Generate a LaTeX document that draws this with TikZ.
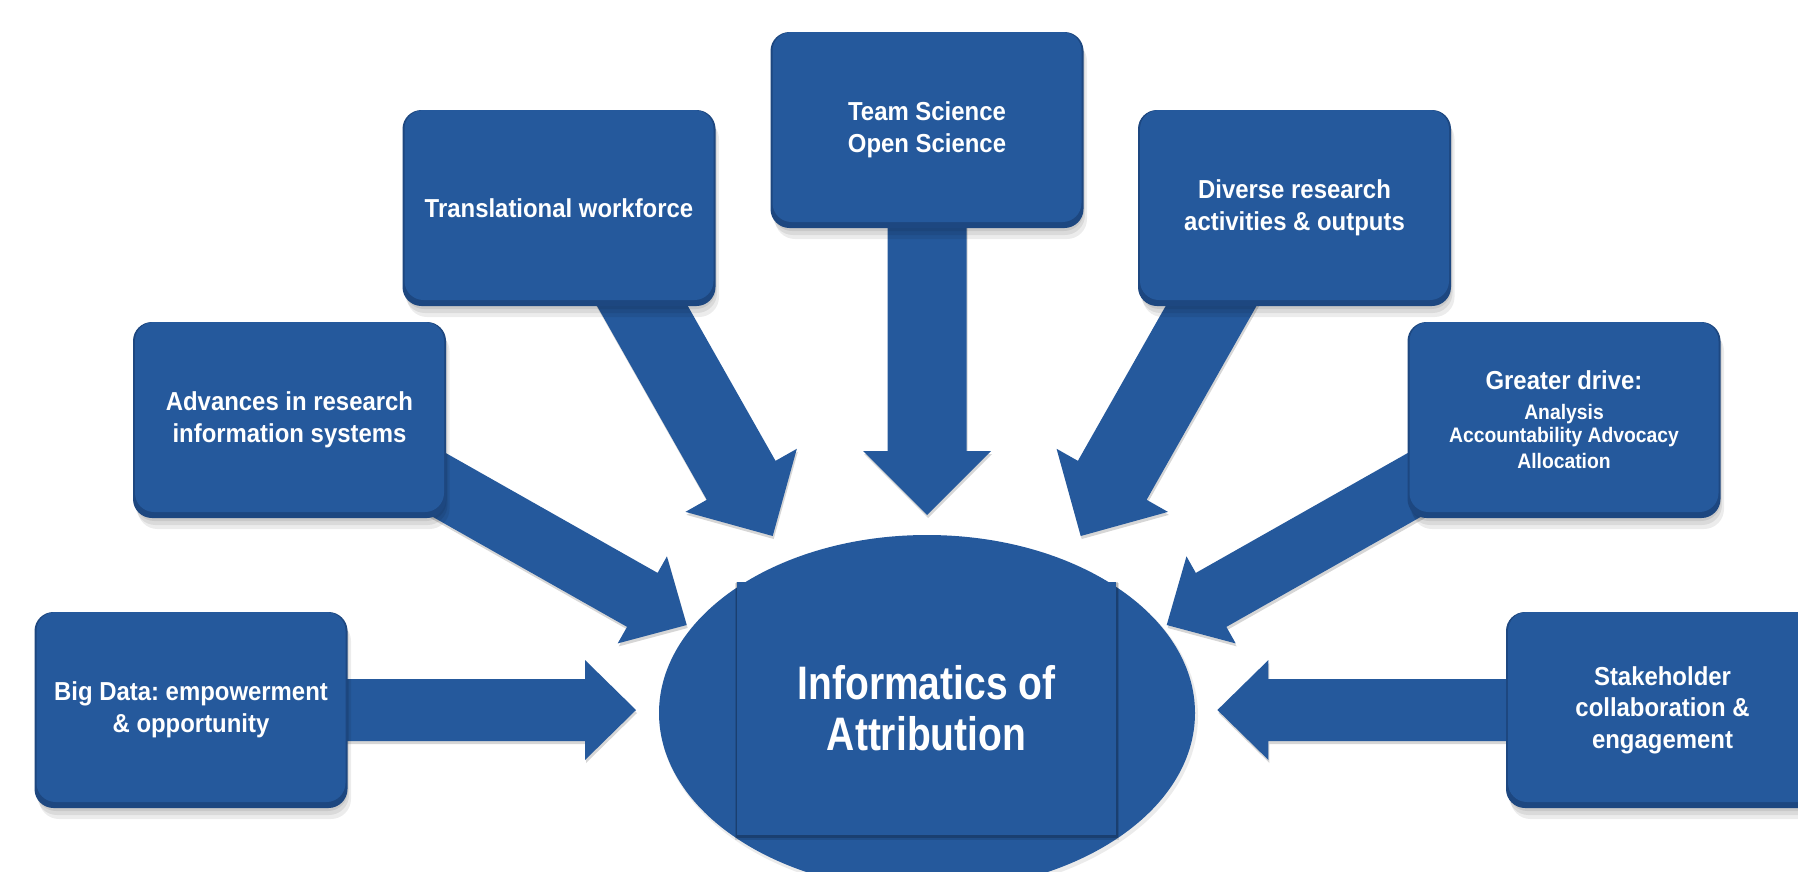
\documentclass[tikz,border=0pt]{standalone}
\usepackage{fontspec}
\setmainfont{Liberation Sans}[FakeStretch=0.92]
\newfontfamily\corefont{Liberation Sans}[FakeStretch=0.83]
\usetikzlibrary{calc,shapes.geometric}
\frenchspacing

\definecolor{boxblue}{RGB}{37,89,156}
\definecolor{edgeblue}{RGB}{29,71,128}

\pgfdeclarelayer{paper}
\pgfdeclarelayer{arrows}
\pgfsetlayers{paper,arrows,main}

\newcommand{\minorsize}{\fontsize{21}{24.5}\selectfont}

\tikzset{
  card/.style={rectangle, rounded corners=19pt, minimum width=309pt, minimum height=190pt,
    inner sep=0pt, fill=boxblue},
  cardedge/.style={fill=edgeblue, rounded corners=19pt},
  cardshade/.style={fill=black, opacity=.075, rounded corners=20pt},
  cardtext/.style={text=white, align=center, inner sep=0pt,
    font=\bfseries\fontsize{26}{31.5}\selectfont},
  coretext/.style={text=white, align=center, inner sep=0pt,
    font=\corefont\bfseries\fontsize{47}{51}\selectfont},
  arrowbody/.style={fill=boxblue},
  arrowshade/.style={fill=black, opacity=.16},
}

% rounded card: soft shadow, darker rim, face, label
\newcommand{\card}[4]{%
  \begin{scope}[shift={(#2,#3)}]
    \fill[cardshade] (-152,-86) rectangle (160,112);
    \fill[cardshade] (-154,-90) rectangle (158,108);
    \fill[cardshade] (-155,-93) rectangle (157,104);
    \fill[cardedge] (-156.5,-95) rectangle (156.5,101);
    \node[card] (#1) at (0,0) {};
    \node[cardtext] (#1-t) at (0,3) {#4};
  \end{scope}}

% outline of a block arrow from #2 to tip #3
\newcommand{\arrowpath}[5][]{%
  \fill[#1] ($(#2)!#4!90:(#3)$) -- ($(#3-base)!#4!90:(#3)$) -- ($(#3-base)!#5!90:(#3)$)
    -- (#3) -- ($(#3-base)!#5!-90:(#3)$) -- ($(#3-base)!#4!-90:(#3)$)
    -- ($(#2)!#4!-90:(#3)$) -- cycle;}

% block arrow: start, tip, shaft half width, head half width, head length
\newcommand{\blockarrow}[5]{%
  \coordinate (#2-base) at ($(#2)!#5!(#1)$);
  \begin{scope}[transform canvas={shift={(1pt,-3pt)}}]
    \arrowpath[arrowshade]{#1}{#2}{#3}{#4}
  \end{scope}
  \arrowpath[arrowbody]{#1}{#2}{#3}{#4}}

\begin{document}
\begin{tikzpicture}[x=1pt, y=-1pt]
  \begin{pgfonlayer}{paper}
    \fill[white] (0,0) rectangle (1798,871);
  \end{pgfonlayer}
  \useasboundingbox (0,0) rectangle (1798,871);

  % outer cards
  \card{ts}{927}{127}{Team Science\\Open Science}
  \card{tr}{559}{205}{Translational workforce}
  \card{dv}{1294.5}{205}{Diverse research\\activities \& outputs}
  \card{ad}{289.5}{417}{Advances in research\\information systems}
  \card{gd}{1564}{417}{Greater drive:\\[-1.5pt]\minorsize Analysis\\[-8.5pt]\minorsize Accountability Advocacy\\[-5.5pt]\minorsize Allocation}
  \card{bd}{191}{707}{Big Data: empowerment\\\& opportunity}
  \card{sh}{1662.5}{707}{Stakeholder\\collaboration \&\\engagement}

  % centre
  \fill[black, opacity=.08] (929,716) ellipse [x radius=269pt, y radius=179pt];
  \node[ellipse, fill=boxblue, minimum width=536pt, minimum height=356pt, inner sep=0pt]
    (core) at (927,713) {};
  \fill[black, opacity=.12] (734.5,583) rectangle (1118.5,840);
  \fill[black, opacity=.18] (735.5,582) rectangle (1117.5,837.5);
  \node[rectangle, fill=boxblue, minimum width=379pt, minimum height=253pt, inner sep=0pt]
    (corebox) at (926.5,708.5) {};
  \node[coretext] (core-t) at (926.5,708.5) {Informatics of\\Attribution};

  % arrow anchors
  \coordinate (sTS) at (ts.center);
  \coordinate (sTR) at ($(tr.center)+(26.2,0)$);
  \coordinate (sDV) at ($(dv.center)+(-26.2,0)$);
  \coordinate (sAD) at ($(ad.center)+(0,-16.8)$);
  \coordinate (sGD) at ($(gd.center)+(0,-16.8)$);
  \coordinate (sBD) at ($(bd.center)+(0,3)$);
  \coordinate (sSH) at ($(sh.center)+(0,3)$);
  \coordinate (tTS) at (927,515);
  \coordinate (tTR) at (772.7,536);
  \coordinate (tDV) at (1080.7,536);
  \coordinate (tAD) at (686.7,625);
  \coordinate (tGD) at (1166.7,625);
  \coordinate (tBD) at (636,710);
  \coordinate (tSH) at (1217.4,710);

  \begin{pgfonlayer}{arrows}
    \blockarrow{sTS}{tTS}{39.5pt}{64pt}{64pt}
    \blockarrow{sTR}{tTR}{39.5pt}{64pt}{64pt}
    \blockarrow{sDV}{tDV}{39.5pt}{64pt}{64pt}
    \blockarrow{sAD}{tAD}{31pt}{50pt}{51pt}
    \blockarrow{sGD}{tGD}{31pt}{50pt}{51pt}
    \blockarrow{sBD}{tBD}{31pt}{50pt}{51pt}
    \blockarrow{sSH}{tSH}{31pt}{50pt}{51pt}
  \end{pgfonlayer}
\end{tikzpicture}
\end{document}
